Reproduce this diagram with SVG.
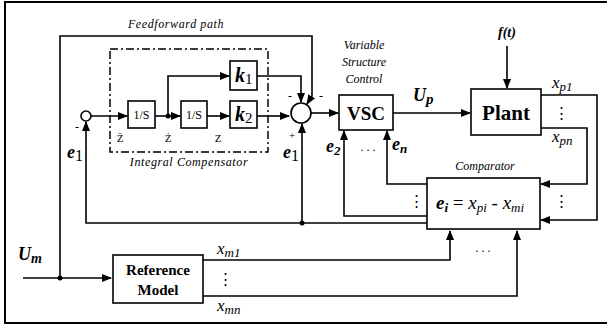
<svg xmlns="http://www.w3.org/2000/svg" width="607" height="329" viewBox="0 0 607 329">
<defs>
<marker id="ah" markerWidth="10" markerHeight="8" refX="9" refY="4" orient="auto" markerUnits="userSpaceOnUse">
<path d="M0,0 L10,4 L0,8 Z" fill="#000" stroke="none"/>
</marker>
<style>
.ln{fill:none;stroke:#000;stroke-width:1.6}
.bx{fill:#fff;stroke:#000;stroke-width:1.6}
text{font-family:'Liberation Serif',serif;fill:#000}
.it{font-style:italic}
.b{font-weight:bold}
.bi{font-weight:bold;font-style:italic}
</style>
</defs>
<rect x="0" y="0" width="607" height="329" fill="#fff"/>
<rect x="5" y="2" width="610" height="321" fill="none" stroke="#000" stroke-width="2"/>

<g id="connectors">
<path class="ln" d="M23,278 H111" marker-end="url(#ah)"/>
<path class="ln" d="M60,278 V36 H312 V96 L307,104" marker-end="url(#ah)"/>
<path class="ln" d="M91,116 H127" marker-end="url(#ah)"/>
<path class="ln" d="M155,116 H180" marker-end="url(#ah)"/>
<path class="ln" d="M168,116 V76 H229" marker-end="url(#ah)"/>
<path class="ln" d="M207,116 H229" marker-end="url(#ah)"/>
<path class="ln" d="M257,116 H289" marker-end="url(#ah)"/>
<path class="ln" d="M257,76 H301 V102" marker-end="url(#ah)"/>
<path class="ln" d="M311,113 H338" marker-end="url(#ah)"/>
<path class="ln" d="M393,113 H470" marker-end="url(#ah)"/>
<path class="ln" d="M507,46 V88" marker-end="url(#ah)"/>
<path class="ln" d="M541,95 H597 V220 H541" marker-end="url(#ah)"/>
<path class="ln" d="M541,128 H587 V184 H541" marker-end="url(#ah)"/>
<path class="ln" d="M427,184 H387 V131" marker-end="url(#ah)"/>
<path class="ln" d="M427,216 H344 V131" marker-end="url(#ah)"/>
<path class="ln" d="M427,223 H86 V122" marker-end="url(#ah)"/>
<path class="ln" d="M302,223 V124" marker-end="url(#ah)"/>
<path class="ln" d="M203,260 H450 V231" marker-end="url(#ah)"/>
<path class="ln" d="M203,296 H517 V231" marker-end="url(#ah)"/>
<circle cx="60" cy="278" r="2.5" fill="#000"/>
<circle cx="168" cy="116" r="2.5" fill="#000"/>
<circle cx="302" cy="223" r="2.5" fill="#000"/>
</g>

<g id="integral-compensator">
<rect x="110" y="49" width="158" height="103" fill="none" stroke="#000" stroke-width="1.5" stroke-dasharray="8,3,2,3"/>
<text class="it" x="189" y="166" font-size="12" text-anchor="middle" letter-spacing="0.6">Integral  Compensator</text>
<text x="120" y="142" font-size="11" text-anchor="middle">Z̈</text>
<text x="168" y="142" font-size="11" text-anchor="middle">Ż</text>
<text x="218" y="142" font-size="11" text-anchor="middle">Z</text>
</g>

<g id="feedforward-label">
<text class="it" x="176" y="28" font-size="12" text-anchor="middle" letter-spacing="0.6">Feedforward  path</text>
</g>

<g id="sum-left">
<circle cx="86" cy="116" r="5" class="bx"/>
<text x="77" y="131" font-size="12" text-anchor="middle">-</text>
<text x="67" y="158" font-size="18"><tspan class="bi">e</tspan><tspan font-size="16" dy="3">1</tspan></text>
</g>

<g id="int1">
<rect x="128" y="101" width="27" height="27" class="bx"/>
<text x="141.5" y="119" font-size="12" text-anchor="middle">1/S</text>
</g>
<g id="int2">
<rect x="181" y="101" width="26" height="27" class="bx"/>
<text x="194" y="119" font-size="12" text-anchor="middle">1/S</text>
</g>
<g id="k1">
<rect x="230" y="61" width="27" height="29" class="bx"/>
<text x="235" y="82" font-size="20"><tspan class="bi">k</tspan><tspan font-size="15" dy="2">1</tspan></text>
</g>
<g id="k2">
<rect x="230" y="101" width="27" height="27" class="bx"/>
<text x="235" y="121" font-size="20"><tspan class="bi">k</tspan><tspan font-size="15" dy="2">2</tspan></text>
</g>

<g id="sum-right">
<circle cx="301" cy="113" r="10" class="bx"/>
<text x="290" y="100" font-size="12" text-anchor="middle">-</text>
<text x="321" y="100" font-size="12" text-anchor="middle">-</text>
<text x="292" y="139" font-size="11" text-anchor="middle">+</text>
<text x="283" y="158" font-size="18"><tspan class="bi">e</tspan><tspan font-size="16" dy="3">1</tspan></text>
</g>

<g id="vsc">
<text class="it" x="364" y="49" font-size="12" text-anchor="middle">Variable</text>
<text class="it" x="364" y="66" font-size="12" text-anchor="middle">Structure</text>
<text class="it" x="364" y="83" font-size="12" text-anchor="middle">Control</text>
<rect x="339" y="95" width="54" height="35" class="bx"/>
<text class="b" x="366" y="120" font-size="19" text-anchor="middle">VSC</text>
<text class="bi" x="326" y="152" font-size="18">e<tspan font-size="13" dy="3">2</tspan></text>
<text x="368" y="151" font-size="12" text-anchor="middle">. . .</text>
<text class="bi" x="392" y="150" font-size="18">e<tspan font-size="13" dy="3">n</tspan></text>
</g>

<g id="up-label">
<text class="bi" x="413" y="101" font-size="18">U<tspan font-size="15" dy="3">p</tspan></text>
</g>

<g id="plant">
<text class="bi" x="507" y="37" font-size="14" text-anchor="middle">f(t)</text>
<rect x="471" y="89" width="70" height="46" class="bx"/>
<text class="b" x="506" y="120" font-size="21" text-anchor="middle">Plant</text>
<text class="it" x="552" y="88" font-size="17">x<tspan font-size="13" dy="3">p</tspan><tspan font-size="13">1</tspan></text>
<text x="561" y="118" font-size="15" text-anchor="middle">⋮</text>
<text class="it" x="552" y="142" font-size="17">x<tspan font-size="13" dy="3">pn</tspan></text>
</g>

<g id="comparator">
<text class="it" x="485" y="170" font-size="12" text-anchor="middle">Comparator</text>
<rect x="427" y="178" width="113" height="51" class="bx"/>
<text x="436" y="209" font-size="19"><tspan class="bi">e</tspan><tspan font-size="13" dy="3" class="bi">i</tspan><tspan dy="-3"> = </tspan><tspan class="it">x</tspan><tspan font-size="13" dy="3" class="it">pi</tspan><tspan dy="-3">  -  </tspan><tspan class="it">x</tspan><tspan font-size="13" dy="3" class="it">mi</tspan></text>
<text x="416" y="206" font-size="15" text-anchor="middle">⋮</text>
<text x="561" y="206" font-size="15" text-anchor="middle">⋮</text>
<text x="483" y="252" font-size="12" text-anchor="middle">. . .</text>
</g>

<g id="reference-model">
<text class="bi" x="18" y="260" font-size="18">U<tspan font-size="14" dy="3">m</tspan></text>
<rect x="113" y="255" width="90" height="48" class="bx"/>
<text class="b" x="158" y="275" font-size="15" text-anchor="middle">Reference</text>
<text class="b" x="158" y="295" font-size="15" text-anchor="middle">Model</text>
<text class="it" x="217" y="254" font-size="17">x<tspan font-size="13" dy="3">m</tspan><tspan font-size="13">1</tspan></text>
<text x="225" y="284" font-size="15" text-anchor="middle">⋮</text>
<text class="it" x="217" y="311" font-size="17">x<tspan font-size="13" dy="3">mn</tspan></text>
</g>
</svg>
